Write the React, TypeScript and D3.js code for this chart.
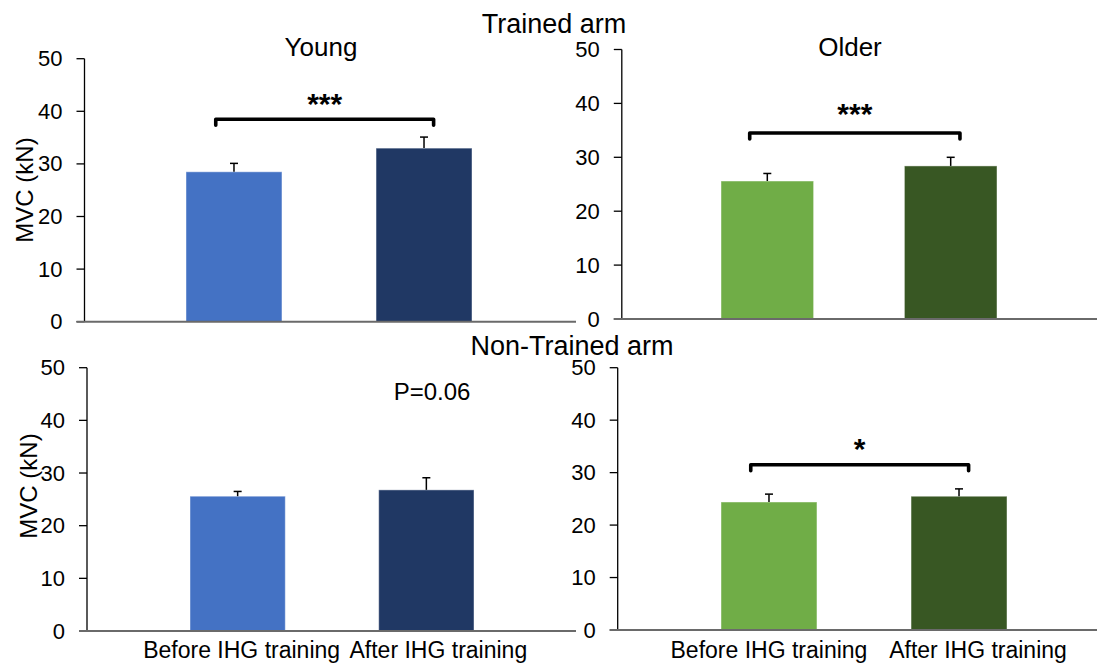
import React from "react";
import * as d3 from "d3";

// Categories and tick values
const categories = ["Before IHG training", "After IHG training"];
const yTicks = [0, 10, 20, 30, 40, 50];

// Maximal voluntary contraction (kN): mean and SE per group
const youngTrainedMean = [28.5, 33.0];
const youngTrainedSE = [1.6, 2.1];
const olderTrainedMean = [25.6, 28.4];
const olderTrainedSE = [1.4, 1.6];
const youngNonTrainedMean = [25.6, 26.8];
const youngNonTrainedSE = [0.9, 2.3];
const olderNonTrainedMean = [24.4, 25.5];
const olderNonTrainedSE = [1.5, 1.4];

// Significance annotations and bracket heights (in kN)
const sigLabels = ["***", "***", "P=0.06", "*"];
const bracketLevels: (number | null)[] = [38.5, 34.5, null, 31.5];

const panelTitles = ["Young", "Older", "", ""];
const rowTitles = ["Trained arm", "Non-Trained arm"];

const youngColors = ["#4472C4", "#203864"];
const olderColors = ["#70AD47", "#385723"];

const FONT = "'Liberation Sans', Arial, Helvetica, sans-serif";

type Panel = {
  mean: number[];
  se: number[];
  colors: string[];
  axisX: number;
  y0: number;
  y50: number;
  xEnd: number;
  barRange: [number, number];
  title: string;
  titleX: number;
  sig: string;
  bracket: number | null;
  sigX?: number;
  sigY: number;
  sigSize: number;
  sigBold: boolean;
  yLabel?: { x: number; y: number };
  xLabels?: { dx: number[]; y: number };
};

const panels: Panel[] = [
  {
    mean: youngTrainedMean, se: youngTrainedSE, colors: youngColors,
    axisX: 84.5, y0: 321.7, y50: 58.7, xEnd: 576, barRange: [186, 472],
    title: panelTitles[0], titleX: 321, sig: sigLabels[0], bracket: bracketLevels[0],
    sigY: 114, sigSize: 30, sigBold: true,
    yLabel: { x: 33, y: 190 },
  },
  {
    mean: olderTrainedMean, se: olderTrainedSE, colors: olderColors,
    axisX: 621.8, y0: 319, y50: 49.5, xEnd: 1097, barRange: [721, 997],
    title: panelTitles[1], titleX: 850, sig: sigLabels[1], bracket: bracketLevels[1],
    sigY: 124, sigSize: 30, sigBold: true,
  },
  {
    mean: youngNonTrainedMean, se: youngNonTrainedSE, colors: youngColors,
    axisX: 87, y0: 631, y50: 367.7, xEnd: 576, barRange: [190, 474],
    title: panelTitles[2], titleX: 0, sig: sigLabels[2], bracket: bracketLevels[2],
    sigX: 432, sigY: 400, sigSize: 24, sigBold: false,
    yLabel: { x: 37, y: 486 },
    xLabels: { dx: [4, 12], y: 658 },
  },
  {
    mean: olderNonTrainedMean, se: olderNonTrainedSE, colors: olderColors,
    axisX: 617.7, y0: 630, y50: 367.7, xEnd: 1097, barRange: [721, 1007],
    title: panelTitles[3], titleX: 0, sig: sigLabels[3], bracket: bracketLevels[3],
    sigY: 459, sigSize: 30, sigBold: true,
    xLabels: { dx: [0, 19], y: 658 },
  },
];

function BarPanel({ p }: { p: Panel }) {
  const y = d3.scaleLinear().domain([0, 50]).range([p.y0, p.y50]);
  const x = d3
    .scaleBand<string>()
    .domain(categories)
    .range(p.barRange)
    .paddingInner(0.495)
    .paddingOuter(0);
  const bw = x.bandwidth();
  const tickLen = 8;

  let bracketPath: string | null = null;
  let midX = 0;
  if (p.bracket !== null) {
    const bx1 = (x(categories[0]) as number) + bw * 0.31;
    const bx2 = (x(categories[1]) as number) + bw * 0.6;
    const by = y(p.bracket);
    const drop = 6;
    const path = d3.path();
    path.moveTo(bx1, by + drop);
    path.lineTo(bx1, by);
    path.lineTo(bx2, by);
    path.lineTo(bx2, by + drop);
    bracketPath = path.toString();
    midX = (bx1 + bx2) / 2;
  }

  return (
    <g>
      {/* bars */}
      {categories.map((c, i) => (
        <rect
          key={c}
          x={x(c)}
          y={y(p.mean[i])}
          width={bw}
          height={y(0) - y(p.mean[i])}
          fill={p.colors[i]}
          stroke="#ffffff"
          strokeOpacity={0.45}
          strokeWidth={1}
        />
      ))}
      {/* upper error whiskers */}
      {categories.map((c, i) => {
        const cx = (x(c) as number) + bw / 2;
        const top = y(p.mean[i] + p.se[i]);
        return (
          <g key={c + "-err"} stroke="#000" strokeWidth={1.5}>
            <line x1={cx} x2={cx} y1={y(p.mean[i])} y2={top} />
            <line x1={cx - 4} x2={cx + 4} y1={top} y2={top} />
          </g>
        );
      })}
      {/* y axis */}
      <line x1={p.axisX} x2={p.axisX} y1={y(50)} y2={y(0)} stroke="#000" strokeWidth={1.3} />
      {yTicks.map((t) => (
        <g key={t}>
          <line
            x1={p.axisX - tickLen}
            x2={p.axisX}
            y1={y(t)}
            y2={y(t)}
            stroke="#000"
            strokeWidth={1.3}
          />
          <text
            x={p.axisX - tickLen - 14}
            y={y(t)}
            textAnchor="end"
            dominantBaseline="central"
            fontFamily={FONT}
            fontSize={22}
            fill="#000"
          >
            {t}
          </text>
        </g>
      ))}
      {/* x axis */}
      <line
        x1={p.axisX - tickLen}
        x2={p.xEnd}
        y1={y(0)}
        y2={y(0)}
        stroke="#6a6a6a"
        strokeWidth={2}
      />
      {p.yLabel && (
        <text
          transform={`translate(${p.yLabel.x},${p.yLabel.y}) rotate(-90)`}
          textAnchor="middle"
          fontFamily={FONT}
          fontSize={24}
          fill="#000"
        >
          MVC (kN)
        </text>
      )}
      {p.title && (
        <text x={p.titleX} y={56} textAnchor="middle" fontFamily={FONT} fontSize={26} fill="#000">
          {p.title}
        </text>
      )}
      {bracketPath && (
        <path
          d={bracketPath}
          fill="none"
          stroke="#000"
          strokeWidth={3.6}
          strokeLinejoin="round"
          strokeLinecap="round"
        />
      )}
      <text
        x={p.sigX ?? midX}
        y={p.sigY}
        textAnchor="middle"
        fontFamily={FONT}
        fontSize={p.sigSize}
        fontWeight={p.sigBold ? "bold" : "normal"}
        fill="#000"
      >
        {p.sig}
      </text>
      {p.xLabels &&
        categories.map((c, i) => (
          <text
            key={c + "-lab"}
            x={(x(c) as number) + bw / 2 + p.xLabels!.dx[i]}
            y={p.xLabels!.y}
            textAnchor="middle"
            fontFamily={FONT}
            fontSize={23}
            fill="#000"
          >
            {c}
          </text>
        ))}
    </g>
  );
}

export default function App() {
  return (
    <div style={{ position: "absolute", left: 0, top: 0 }}>
      <svg width={1103} height={663} style={{ display: "block", background: "#fff" }}>
        <rect width={1103} height={663} fill="#fff" />
        {panels.map((p, i) => (
          <BarPanel key={i} p={p} />
        ))}
        <text x={554} y={33} textAnchor="middle" fontFamily={FONT} fontSize={27} fill="#000">
          {rowTitles[0]}
        </text>
        <text x={572} y={355} textAnchor="middle" fontFamily={FONT} fontSize={27} fill="#000">
          {rowTitles[1]}
        </text>
      </svg>
    </div>
  );
}
